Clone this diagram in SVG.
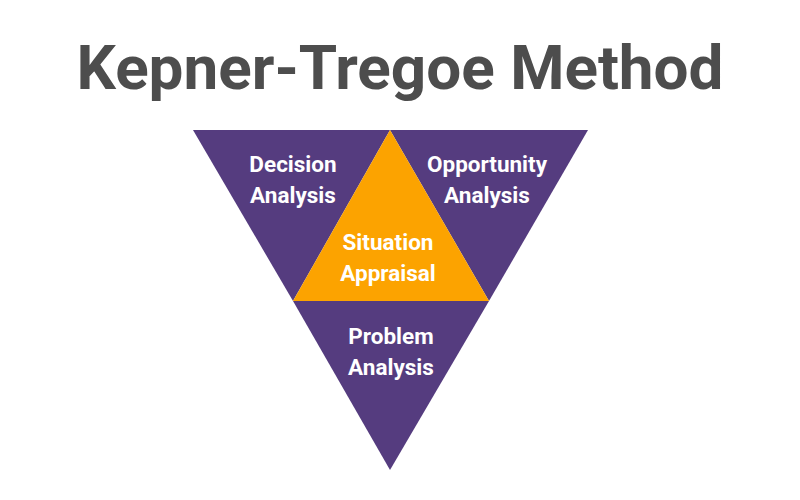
<svg xmlns="http://www.w3.org/2000/svg" width="800" height="500" viewBox="0 0 800 500">
<style>
.p{fill:#553c7f}
.o{fill:#fca300}
.t{font-family:"Roboto","Liberation Sans",sans-serif;font-weight:bold;fill:#fff;font-size:22.5px;text-anchor:middle}
.h{font-family:"Roboto","Liberation Sans",sans-serif;font-weight:bold;fill:#4d4d4d;font-size:62px;text-anchor:middle}
</style>
<rect width="800" height="500" fill="#fff"/>
<text class="h" x="400" y="89">Kepner-Tregoe Method</text>
<g id="decision"><polygon class="p" points="193,130 390,130 293,301"/><text class="t" x="293" y="172">Decision</text><text class="t" x="293" y="203">Analysis</text></g>
<g id="opportunity"><polygon class="p" points="390,130 588,130 489,301"/><text class="t" x="487" y="172">Opportunity</text><text class="t" x="487" y="203">Analysis</text></g>
<g id="problem"><polygon class="p" points="293,301 489,301 390,470"/><text class="t" x="391" y="344">Problem</text><text class="t" x="391" y="375">Analysis</text></g>
<g id="situation"><polygon class="o" points="390,130 489,301 293,301"/><text class="t" x="388" y="250">Situation</text><text class="t" x="388" y="281">Appraisal</text></g>
<g id="connectors"/>
</svg>
